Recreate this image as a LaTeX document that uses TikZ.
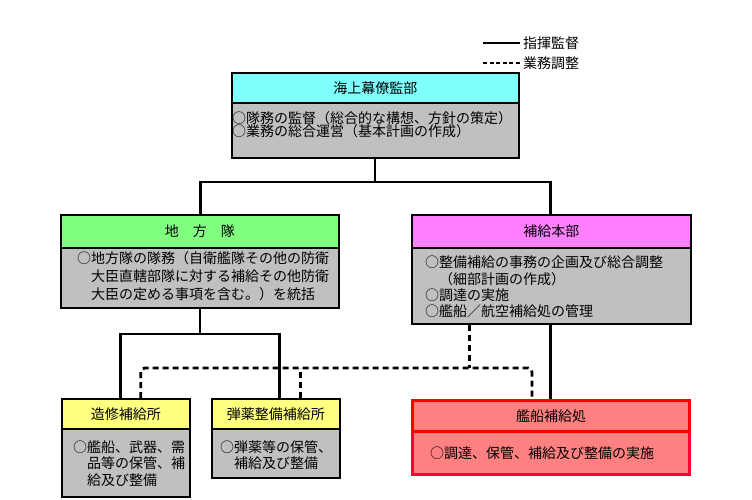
\documentclass[tikz,border=0pt]{standalone}
\usepackage{fontspec}
\setmainfont{Noto Sans CJK JP}
\usetikzlibrary{calc}
\definecolor{tcyan}{HTML}{80FFFF}
\definecolor{tgreen}{HTML}{80FF80}
\definecolor{tmag}{HTML}{FF80FF}
\definecolor{tyel}{HTML}{FFFF80}
\definecolor{tgray}{HTML}{C0C0C0}
\definecolor{tsalmon}{HTML}{FF8080}
\definecolor{tred}{HTML}{FF0000}
\definecolor{tcrim}{HTML}{FF0033}
\begin{document}
\begin{tikzpicture}[x=1pt,y=-1pt,
  box/.style={draw=black, line width=1.6pt, inner sep=0pt, anchor=north west, font=\fontsize{14}{16}\selectfont},
  rbox/.style={draw=tred, line width=3pt, inner sep=0pt, anchor=north west, font=\fontsize{14}{16}\selectfont},
  txt/.style={inner sep=0pt, anchor=west, font=\fontsize{14}{16}\selectfont},
  conn/.style={line width=2.8pt},
  dsh/.style={line width=2.8pt, dash pattern=on 6pt off 4pt, rounded corners=4pt},
  lsolid/.style={line width=1.8pt},
  ldash/.style={line width=1.6pt, dash pattern=on 4pt off 2.5pt}]
\useasboundingbox (0,0) rectangle (752,500);
\fill[white] (0,0) rectangle (752,500);

% legend
\node[txt] (lg1) at (523,43) {指揮監督};
\node[txt] (lg2) at (523,63) {業務調整};
\draw[lsolid] ([xshift=-40pt]lg1.west) -- ([xshift=-3pt]lg1.west);
\draw[ldash] ([xshift=-40pt]lg2.west) -- ([xshift=-3pt]lg2.west);

% top
\node[box, fill=tcyan, minimum width=287pt, minimum height=30pt] (topT) at (231,72) {海上幕僚監部};
\node[box, fill=tgray, minimum width=287pt, minimum height=55pt] (topB) at (231,102) {};
\node[txt] (t1) at (232,118) {○隊務の監督（総合的な構想、方針の策定）};
\node[txt] (t2) at (232,131) {○業務の総合運営（基本計画の作成）};

% chiho
\node[box, fill=tgreen, minimum width=278pt, minimum height=33pt] (chT) at (60,214) {地　方　隊};
\node[box, fill=tgray, minimum width=278pt, minimum height=60pt] (chB) at (60,247) {};
\node[txt] (c1) at (77,258) {○地方隊の隊務（自衛艦隊その他の防衛};
\node[txt] (c2) at (91,276) {大臣直轄部隊に対する補給その他防衛};
\node[txt] (c3) at (91,294) {大臣の定める事項を含む。）を統括};

% honbu
\node[box, fill=tmag, minimum width=279pt, minimum height=33pt] (hoT) at (411,214) {補給本部};
\node[box, fill=tgray, minimum width=279pt, minimum height=76pt] (hoB) at (411,247) {};
\node[txt] (h1) at (425,262) {○整備補給の事務の企画及び総合調整};
\node[txt] (h2) at (439,279) {（細部計画の作成）};
\node[txt] (h3) at (425,295) {○調達の実施};
\node[txt] (h4) at (425,311) {○艦船／航空補給処の管理};

% zoshu
\node[box, fill=tyel, minimum width=128pt, minimum height=30pt] (zoT) at (61,398) {造修補給所};
\node[box, fill=tgray, minimum width=128pt, minimum height=68pt] (zoB) at (61,428) {};
\node[txt] (z1) at (73,447) {○艦船、武器、需};
\node[txt] (z2) at (87,463) {品等の保管、補};
\node[txt] (z3) at (87,480) {給及び整備};

% danyaku
\node[box, fill=tyel, minimum width=128pt, minimum height=30pt] (daT) at (211,398) {弾薬整備補給所};
\node[box, fill=tgray, minimum width=128pt, minimum height=49pt] (daB) at (211,428) {};
\node[txt] (d1) at (220,447) {○弾薬等の保管、};
\node[txt] (d2) at (234,463) {補給及び整備};

% kansen
\node[rbox, draw=tcrim, fill=tsalmon, minimum width=277pt, minimum height=43pt] (kaB) at (411,430) {};
\node[rbox, fill=tsalmon, minimum width=277pt, minimum height=31pt] (kaT) at (411,399) {艦船補給処};
\node[txt] (k1) at (430,453) {○調達、保管、補給及び整備の実施};

% solid connectors
\coordinate (j1) at (375,182);
\draw[conn] (topB.south -| j1) -- (j1);
\draw[conn] ([xshift=1pt]chT.north) |- (j1) -| ([xshift=-1pt]hoT.north);
\coordinate (j2) at (200,334);
\draw[conn] (chB.south -| j2) -- (j2);
\draw[conn] ([xshift=-5pt]zoT.north) |- (j2) -| ([xshift=4pt]daT.north);
\draw[conn] ([xshift=-0.5pt]kaT.north) -- ([xshift=-0.5pt]kaT.north |- hoB.south);

% dashed connectors
\coordinate (dy) at (0,368);
\coordinate (da) at ([xshift=15pt]zoT.north);
\coordinate (db) at ([xshift=-19pt]kaT.north);
\draw[dsh] (da) -- (da |- dy) -- (db |- dy) -- (db);
\draw[dsh] ([xshift=25pt]daT.north) -- ([xshift=25pt]daT.north |- dy);
\draw[dsh] ([xshift=-82pt]hoB.south) -- ([xshift=-82pt]hoB.south |- dy);
\end{tikzpicture}
\end{document}
